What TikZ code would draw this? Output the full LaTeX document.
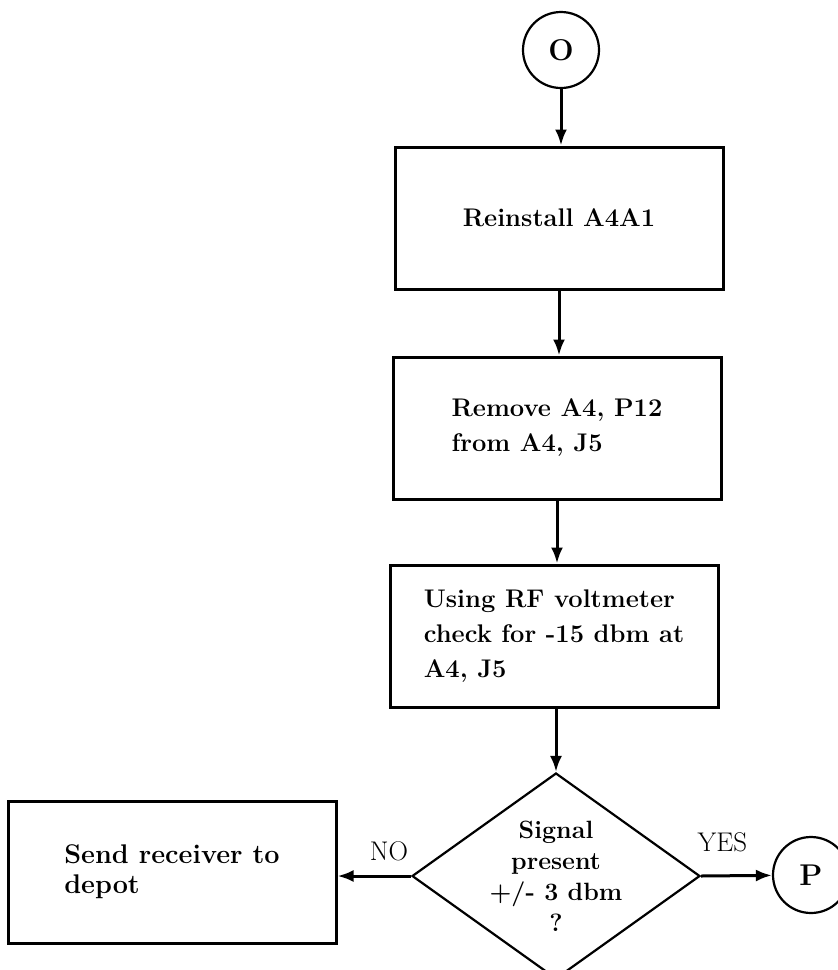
\documentclass[tikz,border=0pt]{standalone}
\usepackage{fontspec}
\usetikzlibrary{shapes.geometric,arrows.meta}

\tikzset{
	stepbox/.style={draw, line width=3pt, minimum width=328pt, minimum height=142pt, align=left,
		font=\fontsize{25.5}{35}\selectfont\bfseries},
	decision/.style={diamond, draw, line width=2.2pt, aspect=1.4, minimum width=288pt, minimum height=206pt,
		inner sep=0pt, align=center, font=\fontsize{25}{31}\selectfont\bfseries},
	terminal/.style={circle, draw, line width=2.2pt, minimum size=76pt, inner sep=0pt,
		font=\fontsize{30}{32}\selectfont\bfseries},
	flow/.style={-{Latex[length=16pt, width=12pt]}, line width=3pt},
	lbl/.style={inner sep=2pt, font=\fontsize{27}{30}\selectfont}
}

\begin{document}
\begin{tikzpicture}[x=1pt, y=-1pt]
	\useasboundingbox (0, 0) rectangle (838, 970);
	\clip (0, 0) rectangle (838, 970);
	% steps
	\node at (561, 50) [terminal] (o) {O};
	\node at (559, 218) [stepbox] (reinst) {Reinstall A4A1};
	\node at (557, 428) [stepbox] (remove) {Remove A4, P12\\from A4, J5};
	\node at (554, 636) [stepbox] (check) {Using RF voltmeter\\check for -15 dbm at\\A4, J5};
	\node at (556, 876) [decision] (signal) {Signal\\present\\+/- 3 dbm\\?};
	\node at (172, 872) [stepbox, font=\fontsize{27}{30}\selectfont\bfseries] (depot) {Send receiver to\\depot};
	\node at (811, 875) [terminal] (p) {P};
	% flow
	\draw [flow] (o.south) -- (o.south |- reinst.north);
	\draw [flow] (reinst.south) -- (reinst.south |- remove.north);
	\draw [flow] (remove.south) -- (remove.south |- check.north);
	\draw [flow] (check.south -| signal.north) -- (signal.north);
	\draw [flow] (signal.west) -- (signal.west -| depot.east) node [pos = 0.3, above = 12pt, lbl] {NO};
	\draw [flow] (signal.east) -- (p) node [pos = 0.3, above = 20pt, lbl] {YES};
\end{tikzpicture}
\end{document}
